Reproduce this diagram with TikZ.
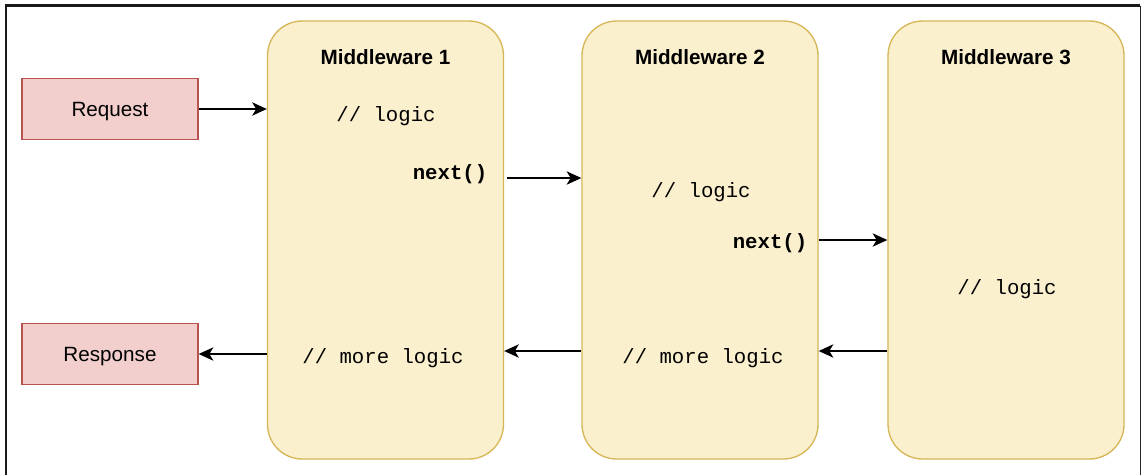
\documentclass[tikz,border=0pt]{standalone}
\usepackage{fontspec}
\setmainfont{Liberation Sans}
\setmonofont{Liberation Mono}
\usetikzlibrary{arrows.meta,positioning}

\definecolor{mwfill}{HTML}{FBF0CE}
\definecolor{mwdraw}{HTML}{D6B656}
\definecolor{iofill}{HTML}{F2CFCD}
\definecolor{iodraw}{HTML}{B85450}

\tikzset{every picture/.style={line width=0.75pt}}
\tikzset{
  mware/.style={draw=mwdraw, fill=mwfill, rounded corners=26pt, minimum width=177pt, minimum height=328.5pt, line width=1pt},
  iobox/.style={draw=iodraw, fill=iofill, minimum width=132pt, minimum height=46pt, line width=1pt, text depth=0pt, font=\fontsize{15.5}{18}\selectfont},
  mtitle/.style={font=\fontsize{15.5}{18}\selectfont\bfseries},
  code/.style={font=\fontsize{15.5}{18}\selectfont\ttfamily},
  codebf/.style={font=\fontsize{15.5}{18}\selectfont\ttfamily\bfseries},
  flow/.style={-{Stealth[length=11pt,width=10pt,inset=3pt]}, line width=1.1pt},
}

\begin{document}
\begin{tikzpicture}[x=0.75pt,y=0.75pt,yscale=-1,xscale=1]
    \useasboundingbox (0,0) rectangle (1141,475);

    %Frame
    \draw [line width=1.6pt, black!90] (6,475) -- (6,5.5) -- (1140,5.5) ;
    \draw [black!85] (1140,5.5) -- (1140,475) ;

    %Shape: Middleware boxes
    \node [mware] (m1) at (385.5,240) {};
    \node [mware] (m2) at (700,240) {};
    \node [mware] (m3) at (1006,240) {};

    %Shape: Request / Response
    \node [iobox] (req) at (110,109) {Request};
    \node [iobox] (resp) at (110,354) {Response};

    % Text Node
    \node [mtitle] (m1title) at (385.5,57) {Middleware 1};
    \node [mtitle] (m2title) at (700,57) {Middleware 2};
    \node [mtitle] (m3title) at (1006,57) {Middleware 3};
    % Text Node
    \node [code] (m1logic) at (386,116) {// logic};
    \node [codebf] (m1next) at (450,174) {next()};
    \node [code] (m1more) at (383,358) {// more logic};
    % Text Node
    \node [code] (m2logic) at (701,192) {// logic};
    \node [codebf] (m2next) at (770,243) {next()};
    \node [code] (m2more) at (703,358) {// more logic};
    % Text Node
    \node [code] (m3logic) at (1007,289) {// logic};

    %Straight Lines
    \draw [flow] (req.east) -- (req -| m1.west) ;
    \draw [flow] ([xshift=2pt,yshift=3pt]m1.east |- m1next) -- ([yshift=3pt]m2.west |- m1next) ;
    \draw [flow] ([yshift=-2.25pt]m2.east |- m2next) -- ([yshift=-2.25pt]m3.west |- m2next) ;
    \draw [flow] ([yshift=-5.25pt]m3.west |- m2more) -- ([yshift=-5.25pt]m2.east |- m2more) ;
    \draw [flow] ([yshift=-5.25pt]m2.west |- m2more) -- ([yshift=-5.25pt]m1.east |- m2more) ;
    \draw [flow] (m1.west |- resp) -- (resp.east) ;
\end{tikzpicture}
\end{document}
